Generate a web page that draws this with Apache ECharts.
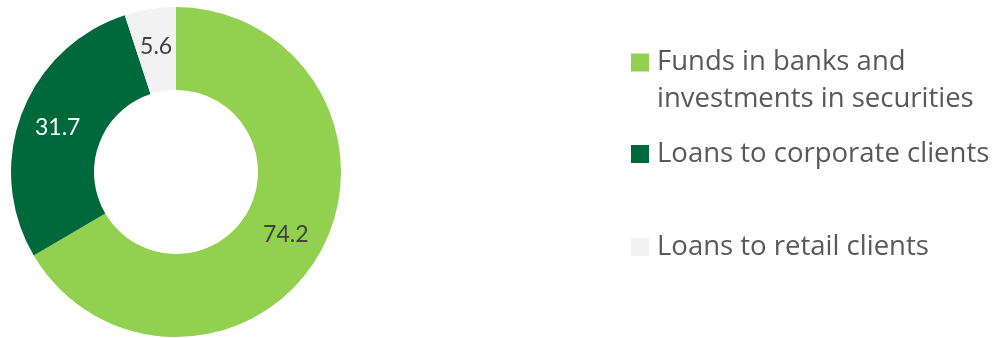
<!DOCTYPE html>
<html>
<head>
<meta charset="utf-8">
<script src="https://cdn.jsdelivr.net/npm/echarts@6/dist/echarts.min.js"></script>
<style>
  html, body { margin: 0; padding: 0; background: #ffffff; }
  #chart { width: 1005px; height: 338px; }
</style>
</head>
<body>
<div id="chart"></div>
<script>
// Portfolio breakdown
const categories = [
  'Funds in banks and\ninvestments in securities',
  'Loans to corporate clients',
  'Loans to retail clients'
];
const values = [74.2, 31.7, 5.6];
const colors = ['#92D050', '#00693C', '#F2F2F2'];
const labelColors = ['#404040', '#ffffff', '#404040'];

const LABEL_FONT = 'Lato, "Open Sans", sans-serif';
const LEGEND_FONT = '"Open Sans", Lato, sans-serif';

// Square marker drawn at the top of a taller box, so a two-line
// legend entry keeps its marker beside the first line.
const TOP_SQUARE = 'path://M0,0L18,0L18,18L0,18Z M0,55L0.01,55';

const chart = echarts.init(document.getElementById('chart'), null, { renderer: 'canvas' });

const legendBase = {
  orient: 'vertical',
  left: 631,
  padding: 0,
  itemWidth: 18,
  itemHeight: 18,
  icon: 'rect',
  selectedMode: false,
  textStyle: { fontFamily: LEGEND_FONT, fontSize: 27.5, color: '#595959', lineHeight: 37, padding: [0, 0, 0, 3] }
};

chart.setOption({
  animation: false,
  legend: [
    Object.assign({}, legendBase, {
      top: 44,
      itemHeight: 55,
      icon: TOP_SQUARE,
      data: [categories[0]]
    }),
    Object.assign({}, legendBase, { top: 135.5, data: [categories[1]] }),
    Object.assign({}, legendBase, { top: 228.5, data: [categories[2]] })
  ],
  series: [{
    type: 'pie',
    center: [176, 172],
    radius: [82, 165],
    startAngle: 90,
    clockwise: true,
    avoidLabelOverlap: false,
    label: {
      show: true,
      position: 'inside',
      fontFamily: LABEL_FONT,
      fontSize: 23,
      formatter: p => p.value.toFixed(1)
    },
    labelLine: { show: false },
    emphasis: { disabled: true },
    data: categories.map((name, i) => ({
      name: name,
      value: values[i],
      itemStyle: { color: colors[i] },
      label: { color: labelColors[i] }
    }))
  }]
});
</script>
</body>
</html>
